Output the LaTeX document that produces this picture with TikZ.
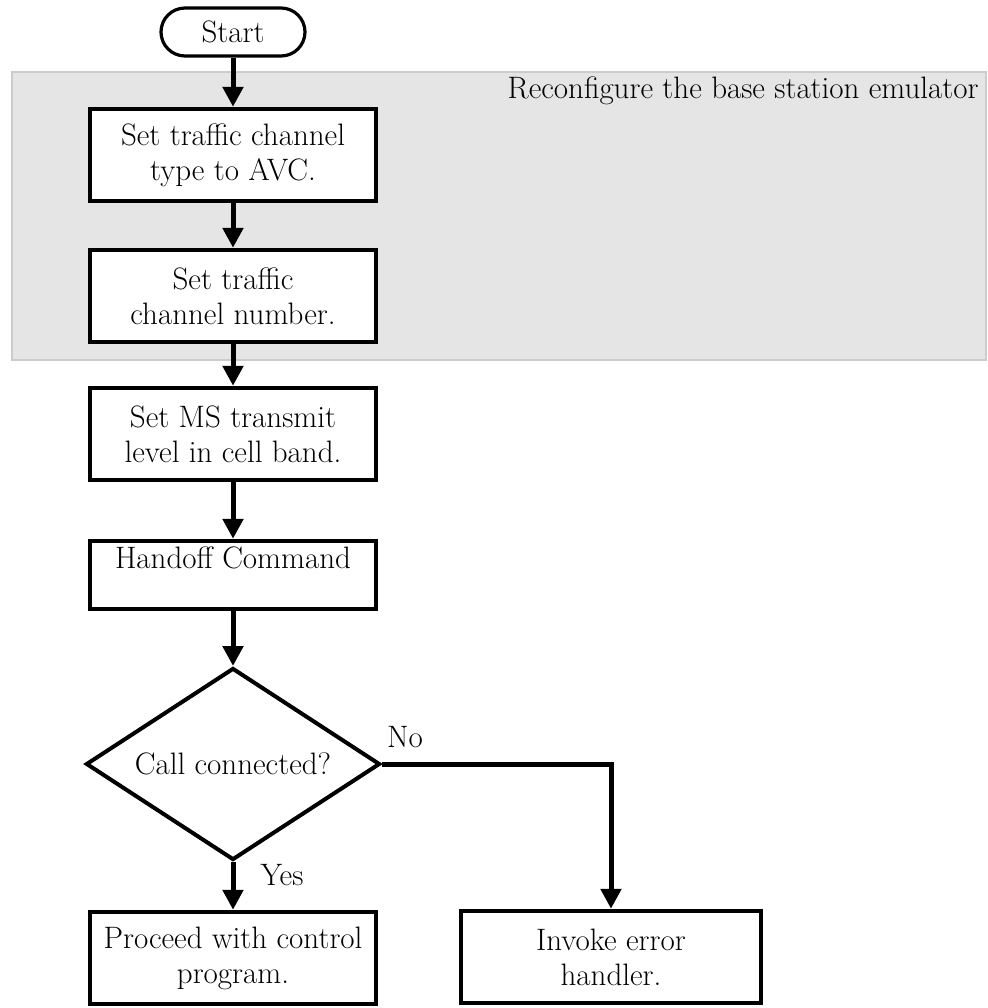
\documentclass[tikz,border=0pt]{standalone}
\usetikzlibrary{arrows.meta,shapes.geometric}
\tikzset{
  flowbox/.style={draw, line width=2.2pt, minimum width=143pt, minimum height=46pt, align=center, inner sep=1pt},
  flowarrow/.style={line width=2.5pt, -{Triangle[width=10pt,length=10pt]}},
}
\begin{document}
\begin{tikzpicture}[x=0.5pt, y=-0.5pt, font=\fontsize{15.5}{17.5}\selectfont]
  \useasboundingbox (0,0) rectangle (988,1008);
  \draw[fill=black!10, draw=black!20, line width=0.8pt] (12,72) rectangle (986,360);
  \node[anchor=east, inner sep=0pt] (grp) at (979,91) {Reconfigure the base station emulator};
  \node[draw, line width=1.6pt, rounded corners=12pt, minimum width=72pt, minimum height=24pt] (start) at (233,32) {Start};
  \node[flowbox, fill=white] (chtype) at (233,155) {Set traffic channel\\type to AVC.};
  \node[flowbox, fill=white] (chnum) at (233,296) {Set traffic\\channel number.};
  \node[flowbox] (txlev) at (233,434) {Set MS transmit\\level in cell band.};
  \node[flowbox, minimum height=34pt] (hoff) at (233,575) {Handoff Command\\\mbox{}};
  \node[draw, diamond, shape aspect=1.5, line width=2pt, minimum width=147pt, minimum height=96pt, inner sep=0pt] (conn) at (233,764) {Call connected?};
  \node[flowbox] (proceed) at (233,958) {Proceed with control\\program.};
  \node[flowbox, minimum width=150pt] (errh) at (611,957) {Invoke error\\handler.};
  \draw[flowarrow] (start) -- (chtype);
  \draw[flowarrow] (chtype) -- (chnum);
  \draw[flowarrow] (chnum) -- (txlev);
  \draw[flowarrow] (txlev) -- (hoff);
  \draw[flowarrow] (hoff) -- (conn);
  \draw[flowarrow] (conn.south) -- (proceed);
  \draw[flowarrow] (conn.east) -| (errh.north);
  \node (no) at (405,737) {No};
  \node (yes) at (282,875) {Yes};
\end{tikzpicture}
\end{document}
